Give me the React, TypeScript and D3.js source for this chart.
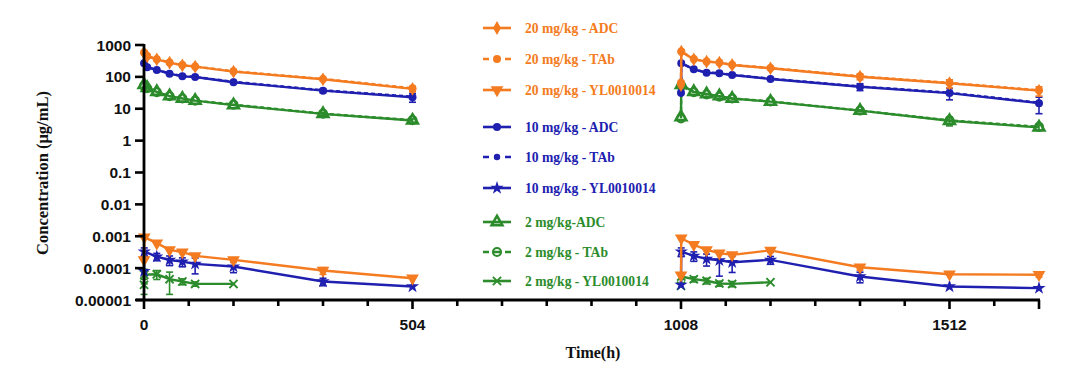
import React from "react";
import * as d3 from "d3";

// ---- time grids (hours) ----
const T_PK1 = [0.083, 6, 24, 48, 72, 96, 168, 336, 504];
const T_PK2 = [1008, 1008.5, 1032, 1056, 1080, 1104, 1176, 1344, 1512, 1680];
const T_YL1 = [0.083, 0.5, 24, 48, 72, 96, 168, 336, 504];
const T_YL2 = [1008, 1008.5, 1032, 1056, 1080, 1104, 1176, 1344, 1512, 1680];
const T_LOW1 = [0.083, 0.5, 24, 48, 72, 96, 168];
const T_LOW2 = [1008, 1008.5, 1032, 1056, 1080, 1104, 1176];

// ---- 20 mg/kg ----
const ADC20_1 = [560, 440, 356, 279, 231, 209, 146, 84, 42];
const ADC20_1_SD = [0, 0, 0, 0, 0, 0, 0, 6, 8];
const ADC20_2 = [55, 617, 356, 300, 279, 236, 186, 101, 63, 37];
const ADC20_2_SD = [0, 0, 0, 0, 0, 0, 0, 20, 18, 12];
const TAB20_1 = [580, 450, 360, 285, 235, 212, 150, 86, 44];
const TAB20_2 = [65, 630, 362, 305, 283, 240, 190, 104, 65, 38];
const YL20_1 = [0.00018, 0.00094, 0.00061, 0.000375, 0.000318, 0.000243, 0.000182, 0.000084, 0.000048];
const YL20_1_SD = [0, 0, 0, 0, 0, 0, 0.00003, 0.00002, 0];
const YL20_2 = [0.00006, 0.00087, 0.00054, 0.000375, 0.000295, 0.00026, 0.00036, 0.000107, 0.0000645, 0.000062];
const YL20_2_SD = [0, 0, 0, 0, 0, 0, 0.00005, 0.00002, 0, 0.00001];

// ---- 10 mg/kg ----
const ADC10_1 = [270, 200, 164, 126, 104, 99, 68, 37, 23];
const ADC10_1_SD = [0, 0, 0, 0, 0, 0, 0, 5, 7];
const ADC10_2 = [32, 267, 173, 135, 129, 114, 86, 49, 31, 15];
const ADC10_2_SD = [0, 0, 0, 0, 0, 0, 0, 12, 12, 8];
const TAB10_1 = [275, 205, 166, 128, 106, 100, 70, 38, 24];
const TAB10_2 = [30, 270, 176, 137, 131, 116, 88, 50, 32, 15.5];
const YL10_1 = [0.00008, 0.00033, 0.00023, 0.00018, 0.00016, 0.000136, 0.000112, 0.000038, 0.0000265];
const YL10_1_SD = [0, 0.0001, 0.00006, 0.00006, 0.00005, 0.00007, 0.00004, 0.00001, 0];
const YL10_2 = [0.00003, 0.00033, 0.000243, 0.000196, 0.000176, 0.000153, 0.000182, 0.0000546, 0.0000265, 0.0000236];
const YL10_2_SD = [0, 0.0001, 0.00008, 0.00008, 0.00012, 0.00008, 0.00005, 0.00002, 0, 0];

// ---- 2 mg/kg ----
const ADC2_1 = [56, 45, 34, 25, 21, 18, 13, 6.9, 4.3];
const ADC2_1_SD = [0, 0, 0, 0, 0, 0, 0, 0.8, 0.5];
const ADC2_2 = [5.5, 56, 34, 29, 25, 21, 16.7, 8.7, 4.2, 2.6];
const ADC2_2_SD = [0, 0, 0, 0, 0, 0, 0, 0.6, 1.3, 0.5];
const TAB2_1 = [52, 44, 33, 25, 21, 18, 13.5, 7, 4.4];
const TAB2_2 = [5, 52, 33, 28, 24, 21, 17, 8.8, 4.3, 2.7];
const YL2_1 = [0.00003, 0.000062, 0.000064, 0.000045, 0.000038, 0.000032, 0.000032];
const YL2_1_SD = [0.000015, 0.00003, 0.00002, 0.00003, 0.000008, 0.000005, 0];
const YL2_2 = [0.000028, 0.0000546, 0.000045, 0.00004, 0.000033, 0.000032, 0.000036];
const YL2_2_SD = [0, 0.00001, 0.000008, 0.000008, 0.000006, 0.000006, 0];

// ---- axis ----
const Y_TICKS = [1000, 100, 10, 1, 0.1, 0.01, 0.001, 0.0001, 0.00001];
const Y_TICK_LABELS = ["1000", "100", "10", "1", "0.1", "0.01", "0.001", "0.0001", "0.00001"];
const X_MAJOR = [0, 504, 1008, 1512];
const X_MINOR_STEP = 84;
const X_MAX = 1680;

const ORANGE = "#F47B20";
const BLUE = "#2020B0";
const GREEN = "#2C8C2C";

type Marker = "diamond" | "circle" | "circleOpen" | "triDown" | "star" | "triOpen" | "x" | "dot";

interface Series {
  label: string;
  color: string;
  marker: Marker;
  dashed: boolean;
  segs: { t: number[]; v: number[]; sd?: number[] }[];
}

const SERIES: Series[] = [
  { label: "2 mg/kg-ADC", color: GREEN, marker: "triOpen", dashed: false, segs: [{ t: T_PK1, v: ADC2_1, sd: ADC2_1_SD }, { t: T_PK2, v: ADC2_2, sd: ADC2_2_SD }] },
  { label: "2 mg/kg - TAb", color: GREEN, marker: "circleOpen", dashed: true, segs: [{ t: T_PK1, v: TAB2_1 }, { t: T_PK2, v: TAB2_2 }] },
  { label: "2 mg/kg - YL0010014", color: GREEN, marker: "x", dashed: false, segs: [{ t: T_LOW1, v: YL2_1, sd: YL2_1_SD }, { t: T_LOW2, v: YL2_2, sd: YL2_2_SD }] },
  { label: "10 mg/kg - ADC", color: BLUE, marker: "circle", dashed: false, segs: [{ t: T_PK1, v: ADC10_1, sd: ADC10_1_SD }, { t: T_PK2, v: ADC10_2, sd: ADC10_2_SD }] },
  { label: "10 mg/kg - TAb", color: BLUE, marker: "dot", dashed: true, segs: [{ t: T_PK1, v: TAB10_1 }, { t: T_PK2, v: TAB10_2 }] },
  { label: "10 mg/kg - YL0010014", color: BLUE, marker: "star", dashed: false, segs: [{ t: T_YL1, v: YL10_1, sd: YL10_1_SD }, { t: T_YL2, v: YL10_2, sd: YL10_2_SD }] },
  { label: "20 mg/kg - ADC", color: ORANGE, marker: "diamond", dashed: false, segs: [{ t: T_PK1, v: ADC20_1, sd: ADC20_1_SD }, { t: T_PK2, v: ADC20_2, sd: ADC20_2_SD }] },
  { label: "20 mg/kg - TAb", color: ORANGE, marker: "circle", dashed: true, segs: [{ t: T_PK1, v: TAB20_1 }, { t: T_PK2, v: TAB20_2 }] },
  { label: "20 mg/kg - YL0010014", color: ORANGE, marker: "triDown", dashed: false, segs: [{ t: T_YL1, v: YL20_1, sd: YL20_1_SD }, { t: T_YL2, v: YL20_2, sd: YL20_2_SD }] },
];

const LEGEND_ORDER = [6, 7, 8, 3, 4, 5, 0, 1, 2];
const LEGEND_Y = [28, 59, 90, 127, 157, 188, 222, 252, 281];

const W = 1080;
const H = 372;
const x = d3.scaleLinear().domain([0, X_MAX]).range([144, 1039]);
const y = d3.scaleLog().domain([1e-5, 1000]).range([300, 45]);

function MarkerShape({ m, cx, cy, color }: { m: Marker; cx: number; cy: number; color: string }) {
  const t = `translate(${cx},${cy})`;
  switch (m) {
    case "diamond":
      return <path transform={t} d={d3.symbol(d3.symbolDiamond, 55)()!} fill={color} />;
    case "circle":
      return <circle cx={cx} cy={cy} r={4} fill={color} />;
    case "dot":
      return <circle cx={cx} cy={cy} r={3.2} fill={color} />;
    case "circleOpen":
      return <circle cx={cx} cy={cy} r={4} fill="none" stroke={color} strokeWidth={2.2} />;
    case "triDown":
      return <path transform={`${t} rotate(180)`} d={d3.symbol(d3.symbolTriangle, 70)()!} fill={color} />;
    case "triOpen":
      return <path transform={t} d={d3.symbol(d3.symbolTriangle, 50)()!} fill="none" stroke={color} strokeWidth={2.6} />;
    case "star":
      return <path transform={t} d={d3.symbol(d3.symbolStar, 55)()!} fill={color} />;
    case "x":
      return <path transform={t} d={d3.symbol(d3.symbolTimes, 45)()!} fill="none" stroke={color} strokeWidth={1.9} />;
  }
  return null;
}

export default function App() {
  const line = d3
    .line<[number, number]>()
    .x((d) => x(d[0]))
    .y((d) => y(d[1]));

  const minors: number[] = d3.range(0, X_MAX + 1, X_MINOR_STEP);

  return (
    <svg width={W} height={H} style={{ position: "absolute", left: 0, top: 0, background: "#fff" }}>
      {/* series */}
      {SERIES.map((s, si) => (
        <g key={si}>
          {s.segs.map((seg, gi) => {
            const pts = seg.t.map((t, i) => [t, seg.v[i]] as [number, number]);
            return (
              <g key={gi}>
                <path
                  d={line(pts)!}
                  fill="none"
                  stroke={s.color}
                  strokeWidth={2.4}
                  strokeDasharray={s.dashed ? "4 3" : undefined}
                />
                {seg.sd &&
                  seg.sd.map((sd, i) => {
                    if (!sd) return null;
                    const cx = x(seg.t[i]);
                    const hi = y(seg.v[i] + sd);
                    const lo = y(Math.max(seg.v[i] - sd, 1.1e-5));
                    return (
                      <g key={i} stroke={s.color} strokeWidth={1.6}>
                        <line x1={cx} x2={cx} y1={hi} y2={lo} />
                        <line x1={cx - 3.5} x2={cx + 3.5} y1={hi} y2={hi} />
                        <line x1={cx - 3.5} x2={cx + 3.5} y1={lo} y2={lo} />
                      </g>
                    );
                  })}
                {pts.map((p, i) => (
                  <MarkerShape key={i} m={s.marker} cx={x(p[0])} cy={y(p[1])} color={s.color} />
                ))}
              </g>
            );
          })}
        </g>
      ))}

      {/* y axis */}
      <line x1={144} x2={144} y1={y(1000) - 1} y2={301} stroke="#000" strokeWidth={2.8} />
      {Y_TICKS.map((v, i) => (
        <g key={i}>
          <line x1={135} x2={144} y1={y(v)} y2={y(v)} stroke="#000" strokeWidth={2.6} />
          <text
            x={131}
            y={y(v)}
            dy="0.36em"
            textAnchor="end"
            fontFamily="Liberation Sans, Arial, sans-serif"
            fontWeight="bold"
            fontSize={15.5}
            fill="#111"
          >
            {Y_TICK_LABELS[i]}
          </text>
        </g>
      ))}
      <text
        transform={`translate(48,173) rotate(-90)`}
        textAnchor="middle"
        fontFamily="Liberation Serif, Times New Roman, serif"
        fontWeight="bold"
        fontSize={16.5}
        fill="#111"
      >
        Concentration (μg/mL)
      </text>

      {/* x axis */}
      <line x1={136} x2={x(X_MAX) + 1} y1={300} y2={300} stroke="#000" strokeWidth={2.8} />
      {minors.map((v, i) => (
        <line key={i} x1={x(v)} x2={x(v)} y1={300} y2={X_MAJOR.includes(v) || v === X_MAX ? 309 : 306} stroke="#000" strokeWidth={2.6} />
      ))}
      {X_MAJOR.map((v, i) => (
        <text
          key={i}
          x={x(v)}
          y={330}
          textAnchor="middle"
          fontFamily="Liberation Sans, Arial, sans-serif"
          fontWeight="bold"
          fontSize={15.5}
          fill="#111"
        >
          {v}
        </text>
      ))}
      <text
        x={593}
        y={358}
        textAnchor="middle"
        fontFamily="Liberation Serif, Times New Roman, serif"
        fontWeight="bold"
        fontSize={16}
        fill="#111"
      >
        Time(h)
      </text>

      {/* legend */}
      {LEGEND_ORDER.map((si, k) => {
        const s = SERIES[si];
        const ly = LEGEND_Y[k];
        return (
          <g key={k}>
            <line
              x1={483}
              x2={511}
              y1={ly}
              y2={ly}
              stroke={s.color}
              strokeWidth={2.6}
              strokeDasharray={s.dashed ? "6 5 6 5" : undefined}
            />
            <MarkerShape m={s.marker} cx={497} cy={ly} color={s.color} />
            <text
              x={525}
              y={ly}
              dy="0.34em"
              fontFamily="Liberation Serif, Times New Roman, serif"
              fontWeight="bold"
              fontSize={13.6}
              fill={s.color}
            >
              {s.label}
            </text>
          </g>
        );
      })}
    </svg>
  );
}
